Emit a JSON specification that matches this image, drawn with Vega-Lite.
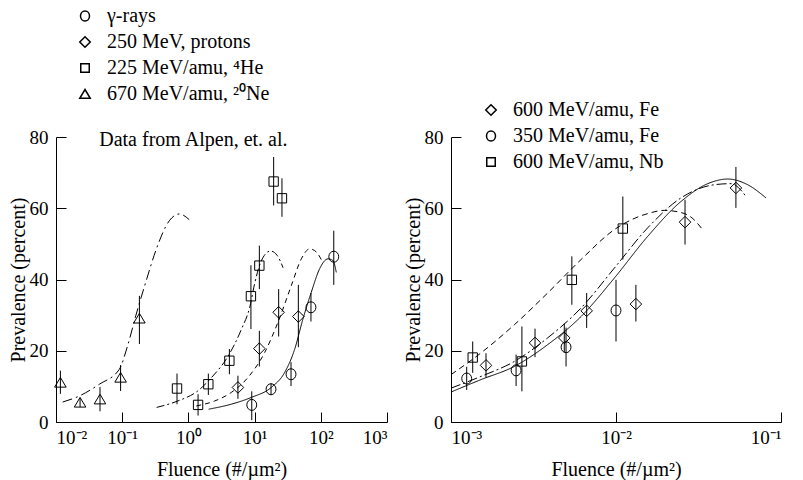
{
  "$schema": "https://vega.github.io/schema/vega-lite/v6.json",
  "background": "white",
  "padding": {"left": 8, "top": 6, "right": 2, "bottom": 2},
  "config": {
    "font": "Liberation Serif",
    "view": {"stroke": null},
    "axis": {
      "domainColor": "black", "tickColor": "black", "labelColor": "black", "titleColor": "black",
      "labelFont": "Liberation Serif", "titleFont": "Liberation Serif",
      "labelFontSize": 19, "titleFontSize": 20, "titleFontWeight": "normal",
      "grid": false, "tickSize": -10, "domainWidth": 1, "tickWidth": 1
    },
    "legend": {"labelFont": "Liberation Serif", "labelColor": "black", "labelLimit": 400}
  },
  "datasets": {
    "ptsL": [
      {"series": "γ-rays", "x": 9.06, "y": 4.8, "lo": 0.5, "hi": 8.6},
      {"series": "γ-rays", "x": 17.7, "y": 9.2, "lo": 7.6, "hi": 10.8},
      {"series": "γ-rays", "x": 35.5, "y": 13.4, "lo": 10.1, "hi": 16.8},
      {"series": "γ-rays", "x": 71, "y": 32.2, "lo": 28.2, "hi": 36.2},
      {"series": "γ-rays", "x": 157, "y": 46.4, "lo": 38.5, "hi": 53.7},
      {"series": "250 MeV, protons", "x": 5.6, "y": 9.7, "lo": 6.5, "hi": 13},
      {"series": "250 MeV, protons", "x": 11.8, "y": 20.6, "lo": 15.6, "hi": 25.6},
      {"series": "250 MeV, protons", "x": 23.1, "y": 30.8, "lo": 24, "hi": 37.3},
      {"series": "250 MeV, protons", "x": 45.8, "y": 29.6, "lo": 21, "hi": 38.5},
      {"series": "225 MeV/amu, ⁴He", "x": 0.673, "y": 9.4, "lo": 5, "hi": 13.6},
      {"series": "225 MeV/amu, ⁴He", "x": 1.4, "y": 4.8, "lo": 1.8, "hi": 7.8},
      {"series": "225 MeV/amu, ⁴He", "x": 2.0, "y": 10.6, "lo": 7.6, "hi": 13.6},
      {"series": "225 MeV/amu, ⁴He", "x": 4.16, "y": 17.2, "lo": 13.4, "hi": 20.5},
      {"series": "225 MeV/amu, ⁴He", "x": 8.8, "y": 35.3, "lo": 26.1, "hi": 44},
      {"series": "225 MeV/amu, ⁴He", "x": 11.8, "y": 43.9, "lo": 37.3, "hi": 49.5},
      {"series": "225 MeV/amu, ⁴He", "x": 19.4, "y": 67.5, "lo": 60.8, "hi": 74.4},
      {"series": "225 MeV/amu, ⁴He", "x": 25.9, "y": 62.8, "lo": 57.6, "hi": 68.4},
      {"series": "670 MeV/amu, ²⁰Ne", "x": 0.01165, "y": 11.1, "lo": 7.9, "hi": 14.4},
      {"series": "670 MeV/amu, ²⁰Ne", "x": 0.0231, "y": 5.5, "lo": 4.2, "hi": 6.8},
      {"series": "670 MeV/amu, ²⁰Ne", "x": 0.0462, "y": 6.4, "lo": 3, "hi": 9.8},
      {"series": "670 MeV/amu, ²⁰Ne", "x": 0.0946, "y": 12.5, "lo": 8.7, "hi": 16},
      {"series": "670 MeV/amu, ²⁰Ne", "x": 0.182, "y": 29.1, "lo": 21.9, "hi": 35.4}
    ],
    "curL": [
      {"series": "γ-rays", "x": 2.023, "y": 3.6},
      {"series": "γ-rays", "x": 4.446, "y": 5.0},
      {"series": "γ-rays", "x": 8.913, "y": 6.9},
      {"series": "γ-rays", "x": 17.86, "y": 9.7},
      {"series": "γ-rays", "x": 28.44, "y": 13.9},
      {"series": "γ-rays", "x": 40.27, "y": 20.4},
      {"series": "γ-rays", "x": 53.7, "y": 28.9},
      {"series": "γ-rays", "x": 71.78, "y": 36.4},
      {"series": "γ-rays", "x": 95.94, "y": 43.0},
      {"series": "γ-rays", "x": 128.2, "y": 45.8},
      {"series": "γ-rays", "x": 152.8, "y": 45.3},
      {"series": "γ-rays", "x": 171.4, "y": 42.0},
      {"series": "250 MeV, protons", "x": 1.315, "y": 4.5},
      {"series": "250 MeV, protons", "x": 2.495, "y": 5.9},
      {"series": "250 MeV, protons", "x": 4.446, "y": 8.3},
      {"series": "250 MeV, protons", "x": 7.943, "y": 12.5},
      {"series": "250 MeV, protons", "x": 14.19, "y": 19.5},
      {"series": "250 MeV, protons", "x": 22.54, "y": 28.0},
      {"series": "250 MeV, protons", "x": 35.89, "y": 38.3},
      {"series": "250 MeV, protons", "x": 50.82, "y": 45.8},
      {"series": "250 MeV, protons", "x": 67.92, "y": 48.6},
      {"series": "250 MeV, protons", "x": 85.7, "y": 47.7},
      {"series": "250 MeV, protons", "x": 108.1, "y": 44.6},
      {"series": "225 MeV/amu, ⁴He", "x": 0.331, "y": 4.1},
      {"series": "225 MeV/amu, ⁴He", "x": 0.692, "y": 5.9},
      {"series": "225 MeV/amu, ⁴He", "x": 1.38, "y": 8.7},
      {"series": "225 MeV/amu, ⁴He", "x": 2.239, "y": 12.5},
      {"series": "225 MeV/amu, ⁴He", "x": 3.981, "y": 18.5},
      {"series": "225 MeV/amu, ⁴He", "x": 6.31, "y": 26.0},
      {"series": "225 MeV/amu, ⁴He", "x": 8.511, "y": 32.5},
      {"series": "225 MeV/amu, ⁴He", "x": 10.0, "y": 38.8},
      {"series": "225 MeV/amu, ⁴He", "x": 12.59, "y": 45.2},
      {"series": "225 MeV/amu, ⁴He", "x": 17.38, "y": 48.0},
      {"series": "225 MeV/amu, ⁴He", "x": 21.88, "y": 46.8},
      {"series": "225 MeV/amu, ⁴He", "x": 26.92, "y": 43.3},
      {"series": "670 MeV/amu, ²⁰Ne", "x": 0.01259, "y": 5.6},
      {"series": "670 MeV/amu, ²⁰Ne", "x": 0.02249, "y": 7.3},
      {"series": "670 MeV/amu, ²⁰Ne", "x": 0.04508, "y": 10.6},
      {"series": "670 MeV/amu, ²⁰Ne", "x": 0.09036, "y": 14.8},
      {"series": "670 MeV/amu, ²⁰Ne", "x": 0.1211, "y": 21.5},
      {"series": "670 MeV/amu, ²⁰Ne", "x": 0.1614, "y": 30.0},
      {"series": "670 MeV/amu, ²⁰Ne", "x": 0.2291, "y": 39.5},
      {"series": "670 MeV/amu, ²⁰Ne", "x": 0.3243, "y": 48.3},
      {"series": "670 MeV/amu, ²⁰Ne", "x": 0.5152, "y": 56.5},
      {"series": "670 MeV/amu, ²⁰Ne", "x": 0.7295, "y": 58.4},
      {"series": "670 MeV/amu, ²⁰Ne", "x": 1.03, "y": 56.8}
    ],
    "ptsR": [
      {"series": "600 MeV/amu, Fe", "x": 0.00163, "y": 15.9, "lo": 12.5, "hi": 19.3},
      {"series": "600 MeV/amu, Fe", "x": 0.00323, "y": 22.2, "lo": 18.2, "hi": 26.2},
      {"series": "600 MeV/amu, Fe", "x": 0.00486, "y": 23.6, "lo": 19.6, "hi": 27.6},
      {"series": "600 MeV/amu, Fe", "x": 0.00664, "y": 31.2, "lo": 26.4, "hi": 36.2},
      {"series": "600 MeV/amu, Fe", "x": 0.0132, "y": 33.1, "lo": 28.2, "hi": 38.5},
      {"series": "600 MeV/amu, Fe", "x": 0.0262, "y": 56.1, "lo": 49.8, "hi": 62.4},
      {"series": "600 MeV/amu, Fe", "x": 0.0533, "y": 65.7, "lo": 60.1, "hi": 71.6},
      {"series": "350 MeV/amu, Fe", "x": 0.001245, "y": 12.2, "lo": 9, "hi": 15.5},
      {"series": "350 MeV/amu, Fe", "x": 0.00248, "y": 14.5, "lo": 10.1, "hi": 18.9},
      {"series": "350 MeV/amu, Fe", "x": 0.00498, "y": 21.0, "lo": 15.6, "hi": 26.5},
      {"series": "350 MeV/amu, Fe", "x": 0.01, "y": 31.3, "lo": 22.6, "hi": 39.9},
      {"series": "600 MeV/amu, Nb", "x": 0.001354, "y": 18.1, "lo": 13.8, "hi": 22.6},
      {"series": "600 MeV/amu, Nb", "x": 0.00269, "y": 17.0, "lo": 8.6, "hi": 26.8},
      {"series": "600 MeV/amu, Nb", "x": 0.0054, "y": 39.9, "lo": 32.9, "hi": 46.5},
      {"series": "600 MeV/amu, Nb", "x": 0.011, "y": 54.3, "lo": 45.6, "hi": 63.3}
    ],
    "curR": [
      {"series": "350 MeV/amu, Fe", "x": 0.001, "y": 8.4},
      {"series": "350 MeV/amu, Fe", "x": 0.00152, "y": 11.9},
      {"series": "350 MeV/amu, Fe", "x": 0.00242, "y": 15.6},
      {"series": "350 MeV/amu, Fe", "x": 0.00385, "y": 21.7},
      {"series": "350 MeV/amu, Fe", "x": 0.00614, "y": 29.6},
      {"series": "350 MeV/amu, Fe", "x": 0.00977, "y": 40.4},
      {"series": "350 MeV/amu, Fe", "x": 0.01556, "y": 52.1},
      {"series": "350 MeV/amu, Fe", "x": 0.02477, "y": 61.9},
      {"series": "350 MeV/amu, Fe", "x": 0.03597, "y": 66.9},
      {"series": "350 MeV/amu, Fe", "x": 0.04753, "y": 68.2},
      {"series": "350 MeV/amu, Fe", "x": 0.06281, "y": 66.6},
      {"series": "350 MeV/amu, Fe", "x": 0.0811, "y": 62.9},
      {"series": "600 MeV/amu, Nb", "x": 0.001, "y": 13.3},
      {"series": "600 MeV/amu, Nb", "x": 0.00152, "y": 19.4},
      {"series": "600 MeV/amu, Nb", "x": 0.00242, "y": 27.3},
      {"series": "600 MeV/amu, Nb", "x": 0.00385, "y": 36.2},
      {"series": "600 MeV/amu, Nb", "x": 0.00614, "y": 45.6},
      {"series": "600 MeV/amu, Nb", "x": 0.00977, "y": 54.0},
      {"series": "600 MeV/amu, Nb", "x": 0.01556, "y": 58.5},
      {"series": "600 MeV/amu, Nb", "x": 0.01963, "y": 59.4},
      {"series": "600 MeV/amu, Nb", "x": 0.02477, "y": 58.8},
      {"series": "600 MeV/amu, Nb", "x": 0.02851, "y": 57.5},
      {"series": "600 MeV/amu, Nb", "x": 0.0335, "y": 54.0},
      {"series": "600 MeV/amu, Fe", "x": 0.001, "y": 9.5},
      {"series": "600 MeV/amu, Fe", "x": 0.00152, "y": 12.8},
      {"series": "600 MeV/amu, Fe", "x": 0.00242, "y": 17.0},
      {"series": "600 MeV/amu, Fe", "x": 0.00385, "y": 23.6},
      {"series": "600 MeV/amu, Fe", "x": 0.00614, "y": 32.0},
      {"series": "600 MeV/amu, Fe", "x": 0.00977, "y": 43.2},
      {"series": "600 MeV/amu, Fe", "x": 0.01556, "y": 54.5},
      {"series": "600 MeV/amu, Fe", "x": 0.02477, "y": 62.9},
      {"series": "600 MeV/amu, Fe", "x": 0.03945, "y": 66.6},
      {"series": "600 MeV/amu, Fe", "x": 0.04977, "y": 66.9},
      {"series": "600 MeV/amu, Fe", "x": 0.06138, "y": 63.3}
    ]
  },
  "bounds": "flush",
  "spacing": 64,
  "resolve": {"scale": {"shape": "independent", "strokeDash": "independent"}, "legend": {"shape": "independent", "strokeDash": "independent"}},
  "hconcat": [
    {
      "width": 331,
      "height": 285,
      "encoding": {
        "x": {"field": "x", "type": "quantitative",
          "scale": {"type": "log", "domain": [0.01, 1000], "nice": false},
          "axis": {"values": [0.01, 0.1, 1, 10, 100, 1000], "title": "Fluence (#/µm²)", "labelPadding": 16, "titlePadding": 12,
            "labelExpr": "'10' + ['⁻³','⁻²','⁻¹','⁰','¹','²','³'][round(log(datum.value)/LN10)+3]"}},
        "y": {"field": "y", "type": "quantitative",
          "scale": {"domain": [0, 80], "nice": false, "zero": false},
          "axis": {"values": [0, 20, 40, 60, 80], "title": "Prevalence (percent)", "labelPadding": 18, "titlePadding": 1}}
      },
      "layer": [
        {
          "data": {"name": "curL"},
          "mark": {"type": "line", "interpolate": "monotone", "color": "black", "strokeWidth": 1},
          "encoding": {
            "strokeDash": {"field": "series", "type": "nominal",
              "scale": {"domain": ["γ-rays", "250 MeV, protons", "225 MeV/amu, ⁴He", "670 MeV/amu, ²⁰Ne"],
                "range": [[1, 0], [5, 4], [8, 3, 2, 3], [10, 4, 2, 4]]},
              "legend": null}
          }
        },
        {
          "data": {"name": "ptsL"},
          "mark": {"type": "rule", "color": "black", "strokeWidth": 1},
          "encoding": {"y": {"field": "lo", "type": "quantitative"}, "y2": {"field": "hi"}}
        },
        {
          "data": {"name": "ptsL"},
          "mark": {"type": "point", "filled": false, "color": "black", "strokeWidth": 1, "size": 121, "opacity": 1},
          "encoding": {
            "shape": {"field": "series", "type": "nominal",
              "sort": ["γ-rays", "250 MeV, protons", "225 MeV/amu, ⁴He", "670 MeV/amu, ²⁰Ne"],
              "scale": {"range": ["M0.9,0C0.9,0.552 0.497,1 0,1C-0.497,1 -0.9,0.552 -0.9,0C-0.9,-0.552 -0.497,-1 0,-1C0.497,-1 0.9,-0.552 0.9,0Z", "M0,-1.05L1.05,0L0,1.05L-1.05,0Z", "M-0.85,-0.85H0.85V0.85H-0.85Z", "M0,-0.9L1.05,0.85H-1.05Z"]},
              "legend": {"orient": "none", "legendX": 19, "legendY": -131, "title": null, "symbolSize": 100,
                "labelFontSize": 20, "labelOffset": 12, "labelLimit": 400, "rowPadding": 6, "padding": 0}}
          }
        },
        {
          "data": {"values": [{"x": 0.045, "y": 79.2, "label": "Data from Alpen, et. al."}]},
          "mark": {"type": "text", "align": "left", "baseline": "middle", "fontSize": 20, "font": "Liberation Serif", "color": "black"},
          "encoding": {"text": {"field": "label"}}
        }
      ]
    },
    {
      "width": 330,
      "height": 285,
      "encoding": {
        "x": {"field": "x", "type": "quantitative",
          "scale": {"type": "log", "domain": [0.001, 0.1], "nice": false},
          "axis": {"values": [0.001, 0.01, 0.1], "title": "Fluence (#/µm²)", "labelPadding": 16, "titlePadding": 12,
            "labelExpr": "'10' + ['⁻³','⁻²','⁻¹','⁰','¹','²','³'][round(log(datum.value)/LN10)+3]"}},
        "y": {"field": "y", "type": "quantitative",
          "scale": {"domain": [0, 80], "nice": false, "zero": false},
          "axis": {"values": [0, 20, 40, 60, 80], "title": "Prevalence (percent)", "labelPadding": 18, "titlePadding": 1}}
      },
      "layer": [
        {
          "data": {"name": "curR"},
          "mark": {"type": "line", "interpolate": "monotone", "color": "black", "strokeWidth": 1},
          "encoding": {
            "strokeDash": {"field": "series", "type": "nominal",
              "scale": {"domain": ["600 MeV/amu, Fe", "350 MeV/amu, Fe", "600 MeV/amu, Nb"],
                "range": [[10, 3, 2, 3], [1, 0], [6, 4]]},
              "legend": null}
          }
        },
        {
          "data": {"name": "ptsR"},
          "mark": {"type": "rule", "color": "black", "strokeWidth": 1},
          "encoding": {"y": {"field": "lo", "type": "quantitative"}, "y2": {"field": "hi"}}
        },
        {
          "data": {"name": "ptsR"},
          "mark": {"type": "point", "filled": false, "color": "black", "strokeWidth": 1, "size": 121, "opacity": 1},
          "encoding": {
            "shape": {"field": "series", "type": "nominal",
              "sort": ["600 MeV/amu, Fe", "350 MeV/amu, Fe", "600 MeV/amu, Nb"],
              "scale": {"range": ["M0,-1.05L1.05,0L0,1.05L-1.05,0Z", "M0.9,0C0.9,0.552 0.497,1 0,1C-0.497,1 -0.9,0.552 -0.9,0C-0.9,-0.552 -0.497,-1 0,-1C0.497,-1 0.9,-0.552 0.9,0Z", "M-0.85,-0.85H0.85V0.85H-0.85Z"]},
              "legend": {"orient": "none", "legendX": 30, "legendY": -37, "title": null, "symbolSize": 100,
                "labelFontSize": 20, "labelOffset": 12, "labelLimit": 400, "rowPadding": 6, "padding": 0}}
          }
        }
      ]
    }
  ]
}
